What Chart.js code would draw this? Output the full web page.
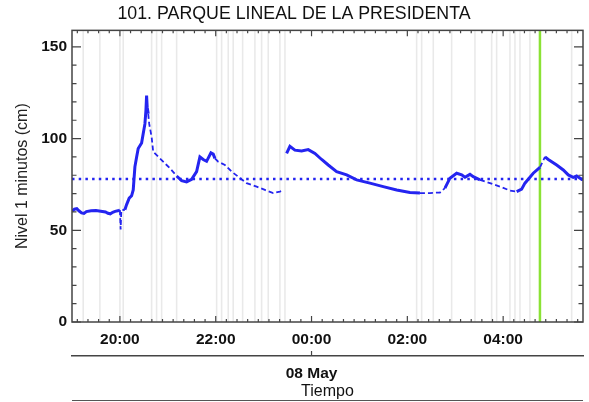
<!DOCTYPE html>
<html>
<head>
<meta charset="utf-8">
<script src="https://cdn.jsdelivr.net/npm/chart.js@4.4.1/dist/chart.umd.min.js"></script>
<style>
html,body{margin:0;padding:0;background:#fff;}
canvas{display:block;}
</style>
</head>
<body>
<canvas id="c" width="589" height="402"></canvas>
<script>
// ---- data (time in hours since 00:00 of 07 May; 24 = 00:00 08 May) ----
const timeHours = [19.0,19.05,19.1,19.15,19.2,19.25,19.3,19.4,19.5,19.6,19.7,19.75,19.8,19.85,19.9,19.98,
  20.0,20.015,20.03,20.104,20.14,20.194,20.244,20.278,20.313,20.349,20.382,20.453,20.486,20.522,20.543,20.557,20.57,20.591,20.612,
  20.662,20.695,20.835,20.975,21.044,21.184,21.288,21.392,21.497,21.601,21.67,21.739,21.81,21.9,21.948,21.983,
  22.052,22.192,22.332,22.47,22.645,22.854,23.027,23.2,23.34,23.409,23.44,
  23.48,23.549,23.653,23.793,23.931,24.071,24.211,24.349,24.524,24.733,24.942,25.219,25.497,25.777,26.054,26.263,26.472,26.681,
  26.785,26.889,27.029,27.134,27.203,27.307,27.376,27.516,27.724,27.933,28.142,28.282,28.386,28.455,28.524,28.628,28.768,
  28.873,28.942,29.117,29.255,29.359,29.463,29.534,29.639,29.667];
const levelCm = [60.5,61.5,61.8,60.5,59.5,59.2,60.2,60.6,60.8,60.4,60.0,59.3,59.0,59.8,60.3,60.8,
  61.0,50.4,61.0,61.2,64,67.5,68.8,72,84.6,90,94.6,97.6,102.7,108,115.3,123.5,117,113.5,108,
  100.9,92.8,89.2,85.6,83.8,79.6,77.1,76.4,77.8,82,90,88.6,87.6,92.2,91.5,89.2,
  87.4,85.6,82,79.2,75.7,73.8,72,70.3,71.1,71.7,null,
  91.9,95.8,93.7,93.3,94,91.9,88.6,85.6,82,80.2,77.5,75.7,73.8,72,70.6,70.3,70.3,70.6,
  73,78.4,81.1,80.2,78.9,80.5,79.2,77.5,75.7,73.8,71.7,71.1,72.4,75.7,77.8,81.1,84.3,
  90,88.6,85.6,82.9,80.2,78.9,79.6,77.8,78];
const thresholdCm = 78;
const gapMarkerHours = [19.234,19.582,20.0,20.069,20.662,20.766,20.871,21.184,22.019,22.123,22.261,22.365,22.562,22.818,22.958,23.096,23.34,23.445,
  26.194,26.299,26.541,26.925,27.411,27.76,27.864,28.142,28.246,28.351,28.559,29.43];
const currentTimeHours = 28.768;
const sparseRanges = [[20.0,20.11],[20.6,21.2],[21.98,23.45],[26.2,26.75],[27.45,28.3],[28.72,28.9]];
const xRange = [19.0, 29.6667];
const yRange = [0, 159];
const xMajorTicks = [20,22,24,26,28];
const xMajorLabels = ['20:00','22:00','00:00','02:00','04:00'];
const xMinorStep = 2/9;
const yMajorTicks = [0,50,100,150];
const yMinorStep = 10;
const dateTick = 24;
const dateLabel = '08 May';
const titleText = '101. PARQUE LINEAL DE LA PRESIDENTA';
const yTitle = 'Nivel 1 minutos (cm)';
const xTitle = 'Tiempo';

// ---- build datasets ----
const FONT = '"Liberation Sans", Arial, Helvetica, sans-serif';
const BLUE = 'rgb(36,36,240)';
const levelData = timeHours.map((t,i)=>({x:t,y:levelCm[i]}));
const gapData = [];
gapMarkerHours.forEach(t=>{gapData.push({x:t,y:yRange[0]},{x:t,y:yRange[1]},{x:t,y:null});});
const inSparse = t => sparseRanges.some(r=>t>=r[0]&&t<=r[1]);

const framePlugin = {
  id:'frame',
  afterDatasetsDraw(chart){
    const {ctx, chartArea:a} = chart;
    const xs = chart.scales.x, ys = chart.scales.y, x2 = chart.scales.x2;
    ctx.save();
    ctx.strokeStyle = '#444';
    ctx.lineWidth = 1.5;
    ctx.strokeRect(a.left, a.top, a.right-a.left, a.bottom-a.top);
    ctx.lineWidth = 1.2;
    ctx.beginPath();
    const first = xMajorTicks[0] - Math.floor((xMajorTicks[0]-xRange[0])/xMinorStep)*xMinorStep;
    for (let v=first; v<=xRange[1]+1e-6; v+=xMinorStep){
      const px = xs.getPixelForValue(v);
      const major = xMajorTicks.some(m=>Math.abs(m-v)<1e-3);
      const len = major?6:3;
      ctx.moveTo(px,a.bottom); ctx.lineTo(px,a.bottom-len);
      ctx.moveTo(px,a.top); ctx.lineTo(px,a.top+len);
    }
    for (let v=yRange[0]; v<=yRange[1]; v+=yMinorStep){
      const py = ys.getPixelForValue(v);
      const major = yMajorTicks.includes(v);
      const len = major?9:4.5;
      ctx.moveTo(a.left,py); ctx.lineTo(a.left+len,py);
      ctx.moveTo(a.right,py); ctx.lineTo(a.right-len,py);
    }
    const dx = x2.getPixelForValue(dateTick);
    ctx.moveTo(dx,x2.top); ctx.lineTo(dx,x2.top-5);
    ctx.stroke();
    ctx.strokeStyle = '#555';
    ctx.lineWidth = 1;
    ctx.beginPath();
    ctx.moveTo(a.left, 400.5); ctx.lineTo(a.right, 400.5);
    ctx.stroke();
    ctx.restore();
  }
};

new Chart(document.getElementById('c'), {
  type:'line',
  data:{datasets:[
    {label:'data', data:levelData, borderColor:BLUE, borderWidth:3, pointRadius:0, spanGaps:false, tension:0, order:0,
     segment:{
       borderWidth: c => inSparse((c.p0.parsed.x+c.p1.parsed.x)/2) ? 1.8 : 3,
       borderDash: c => inSparse((c.p0.parsed.x+c.p1.parsed.x)/2) ? [5,3] : undefined
     }},
    {label:'umbral', data:[{x:xRange[0],y:thresholdCm},{x:xRange[1],y:thresholdCm}], borderColor:BLUE, borderWidth:2.5, borderDash:[2.5,4.2], pointRadius:0, order:1},
    {label:'ahora', data:[{x:currentTimeHours,y:yRange[0]},{x:currentTimeHours,y:yRange[1]}], borderColor:'#8be235', borderWidth:2.5, pointRadius:0, order:2},
    {label:'gaps', data:gapData, borderColor:'rgba(0,0,0,0.085)', borderWidth:1.6, pointRadius:0, spanGaps:false, order:3}
  ]},
  options:{
    responsive:false, animation:false, devicePixelRatio:1,
    layout:{padding:{left:5,right:6,top:0,bottom:0}},
    plugins:{
      legend:{display:false}, tooltip:{enabled:false},
      title:{display:true, text:titleText, color:'#111', font:{family:FONT,size:17.8,weight:'normal',lineHeight:1.2}, padding:{top:3,bottom:6}}
    },
    scales:{
      x:{type:'linear', position:'bottom', min:xRange[0], max:xRange[1],
        grid:{display:false, drawTicks:false}, border:{display:false},
        afterBuildTicks: s => { s.ticks = xMajorTicks.map(v=>({value:v})); },
        afterFit: s => { s.height = 34; },
        ticks:{padding:8.5, color:'#111', maxRotation:0, autoSkip:false, font:{family:FONT,size:15.5,weight:'bold'},
          callback:(v)=>{const i=xMajorTicks.indexOf(v);return i>=0?xMajorLabels[i]:'';}}
      },
      x2:{type:'linear', position:'bottom', min:xRange[0], max:xRange[1],
        grid:{display:false, drawTicks:false}, border:{display:true, color:'#444', width:1.5},
        afterBuildTicks: s => { s.ticks = [{value:dateTick}]; },
        afterFit: s => { s.height = 46; },
        ticks:{padding:8.5, color:'#111', maxRotation:0, autoSkip:false, font:{family:FONT,size:15.5,weight:'bold'}, callback:()=>dateLabel},
        title:{display:true, text:xTitle, color:'#111', font:{family:FONT,size:16,lineHeight:1.2}, padding:{top:0,bottom:1}}
      },
      y:{type:'linear', min:yRange[0], max:yRange[1],
        grid:{display:false, drawTicks:false}, border:{display:false},
        afterBuildTicks: s => { s.ticks = yMajorTicks.map(v=>({value:v})); },
        afterFit: s => { s.width = 67; },
        ticks:{padding:5, color:'#111', font:{family:FONT,size:15.5,weight:'bold'}},
        title:{display:true, text:yTitle, color:'#222', font:{family:FONT,size:16,lineHeight:1.2}, padding:{top:8,bottom:0}}
      }
    }
  },
  plugins:[framePlugin]
});
</script>
</body>
</html>
